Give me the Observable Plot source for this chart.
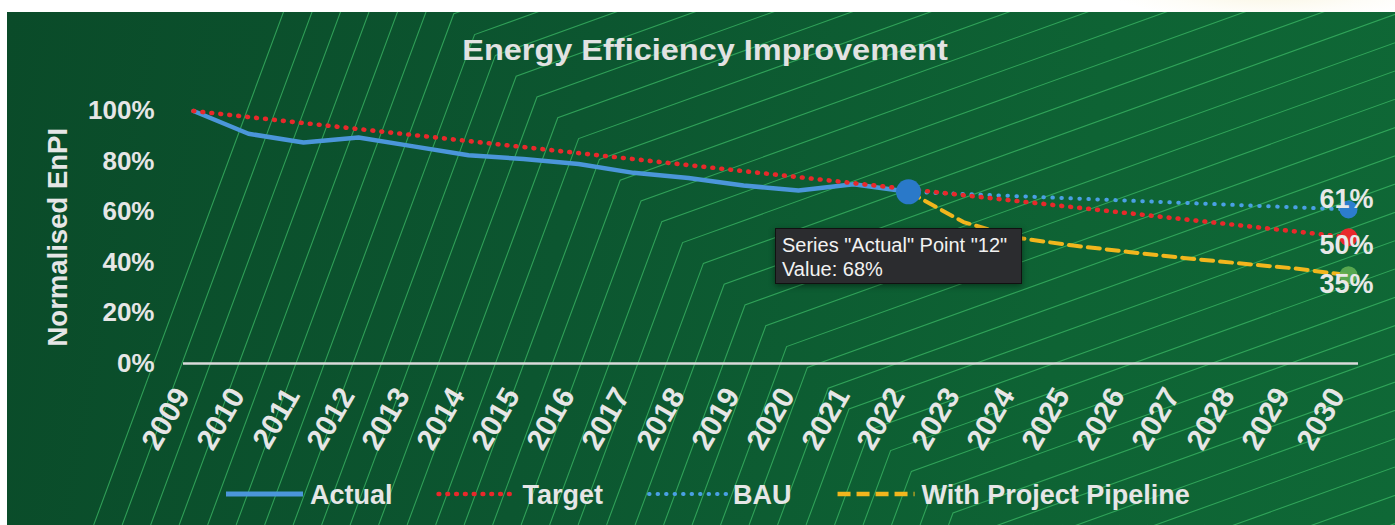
<!DOCTYPE html>
<html>
<head>
<meta charset="utf-8">
<script src="https://cdn.jsdelivr.net/npm/d3@7"></script>
<script src="https://cdn.jsdelivr.net/npm/@observablehq/plot@0.6"></script>
<style>
  body { margin: 0; background: #fff; }
  #wrap { position: relative; width: 1395px; height: 525px; overflow: hidden; background: #fff;
          font-family: "Liberation Sans", Arial, Helvetica, sans-serif; }
  #glow { position: absolute; left: 1120px; top: -40px; width: 300px; height: 60px;
          background: radial-gradient(ellipse at center, rgba(245,238,200,0.55) 0%, rgba(250,246,225,0.25) 50%, rgba(255,255,255,0) 75%); }
  #green { position: absolute; left: 7px; top: 12px; width: 1388px; height: 513px; overflow: hidden;
           background: linear-gradient(100deg, #0a4b29 0%, #0c5630 40%, #0e6334 75%, #0f6836 100%); }
  #deco { position: absolute; left: 0; top: 0; }
  #chart { position: absolute; left: 0; top: 0; width: 1395px; height: 525px; }
  #chart svg { overflow: visible; }
  #title { position: absolute; top: 34px; left: 705px; transform: translateX(-50%) scaleX(1.12);
           font-weight: bold; font-size: 29px; color: #e2e2e2; white-space: nowrap; }
  #legend { position: absolute; left: 0; top: 460px; }
  #tip { position: absolute; width: 247px; height: 56px; box-sizing: border-box;
         background: #2b2c2f; border: 1px solid #111; box-shadow: 0 2px 6px rgba(0,0,0,0.45);
         color: #f2f2f2; font-size: 20px; font-weight: normal; line-height: 24px;
         padding: 4px 0 0 6px; white-space: nowrap; }
</style>
</head>
<body>
<div id="wrap">
  <div id="glow"></div>
  <div id="green"><svg id="deco" width="1388" height="513"></svg></div>
  <div id="chart"></div>
  <div id="title"></div>
  <svg id="legend" width="1395" height="65"></svg>
  <div id="tip"></div>
</div>
<script>
// ---------------- data ----------------
const titleText = "Energy Efficiency Improvement";
const yLabelText = "Normalised EnPI";
const years = ["2009","2010","2011","2012","2013","2014","2015","2016","2017","2018","2019",
               "2020","2021","2022","2023","2024","2025","2026","2027","2028","2029","2030"];
const yTicks = [0, 20, 40, 60, 80, 100];

const actualYears  = ["2009","2010","2011","2012","2013","2014","2015","2016","2017","2018","2019","2020","2021","2022"];
const actualValues = [100, 91, 87.5, 89.5, 86, 82.5, 81, 79, 75.5, 73.5, 70.5, 68.5, 71, 68];

const targetYears  = ["2009", "2030"];
const targetValues = [100, 50];

const bauYears  = ["2022", "2030"];
const bauValues = [68, 61];

const pipelineYears  = ["2022","2023","2024","2025","2026","2027","2028","2029","2030"];
const pipelineValues = [68, 56, 49.7, 46.7, 44.2, 41.8, 39.7, 37.7, 35];

const seriesNames  = ["Actual", "Target", "BAU", "With Project Pipeline"];
const seriesColors = ["#4b96da", "#e8292b", "#4aa0e4", "#f2b61d"];
const markerColors = ["#2a79c9", "#e8292b", "#2c7dcd", "#5fae52"];

const tooltipLines = ['Series "Actual" Point "12"', 'Value: 68%'];

// ---------------- build ----------------
const rows = (xs, vs, s) => xs.map((x, i) => ({year: x, value: vs[i], series: s}));
const actual   = rows(actualYears, actualValues, seriesNames[0]);
const target   = rows(targetYears, targetValues, seriesNames[1]);
const bau      = rows(bauYears, bauValues, seriesNames[2]);
const pipeline = rows(pipelineYears, pipelineValues, seriesNames[3]);

const lastActual = actual[actual.length - 1];
const bauEnd = bau[bau.length - 1];
const targetEnd = target[target.length - 1];
const pipeEnd = pipeline[pipeline.length - 1];

const FONT = "'Liberation Sans', Arial, Helvetica, sans-serif";
const labelStyle = {x: "year", y: "value", text: d => `${d.value}%`, fill: "#e8e8e8",
                    fontSize: 27, fontWeight: "bold", dx: -2};

const plot = Plot.plot({
  width: 1395,
  height: 525,
  marginLeft: 183,
  marginRight: 37,
  marginTop: 110.5,
  marginBottom: 162,
  style: {background: "transparent", color: "#e6e6e6", fontFamily: FONT,
          fontWeight: "bold", fontSize: "26px", overflow: "visible"},
  x: {type: "point", domain: years, padding: 0, label: null},
  y: {domain: [0, 100], label: null},
  marks: [
    Plot.axisX({tickSize: 0, tickRotate: -60, tickPadding: 27, dx: -11, fontSize: 29.5,
                fontWeight: "bold", fill: "#e6e6e6", label: null}),
    Plot.axisY({ticks: yTicks, tickFormat: d => `${d}%`, tickSize: 0, tickPadding: 29, fontSize: 26,
                fontWeight: "bold", fill: "#e6e6e6", label: null}),
    Plot.ruleY([0], {stroke: "#dadada", strokeWidth: 2.5}),
    Plot.line(actual, {x: "year", y: "value", stroke: seriesColors[0], strokeWidth: 4.5}),
    Plot.line(bau, {x: "year", y: "value", stroke: seriesColors[2], strokeWidth: 4,
                    strokeDasharray: "0.5 8.5", strokeLinecap: "round"}),
    Plot.line(target, {x: "year", y: "value", stroke: seriesColors[1], strokeWidth: 4.6,
                       strokeDasharray: "0.8 8.2", strokeLinecap: "round"}),
    Plot.line(pipeline, {x: "year", y: "value", stroke: seriesColors[3], strokeWidth: 4,
                         strokeDasharray: "12 7"}),
    Plot.dot([lastActual], {x: "year", y: "value", r: 12.5, fill: markerColors[0]}),
    Plot.dot([bauEnd], {x: "year", y: "value", r: 9, fill: markerColors[2]}),
    Plot.dot([targetEnd], {x: "year", y: "value", r: 9, fill: markerColors[1]}),
    Plot.dot([pipeEnd], {x: "year", y: "value", r: 9, fill: markerColors[3], fillOpacity: 0.9}),
    Plot.text([bauEnd], {...labelStyle, dy: -10}),
    Plot.text([targetEnd], {...labelStyle, dy: 8}),
    Plot.text([pipeEnd], {...labelStyle, dy: 9}),
    Plot.text([yLabelText], {frameAnchor: "left", textAnchor: "middle", dx: -125.5, rotate: -90,
                             fontSize: 27.5, fontWeight: "bold", fill: "#e6e6e6"})
  ]
});
document.getElementById("chart").appendChild(plot);

// title
document.getElementById("title").textContent = titleText;

// tooltip placed from the scales
const sx = plot.scale("x"), sy = plot.scale("y");
const px = sx.apply(lastActual.year), py = sy.apply(lastActual.value);
const tip = document.getElementById("tip");
tip.style.left = (px - 133) + "px";
tip.style.top = (py + 37) + "px";
tip.innerHTML = tooltipLines.map(t => `<div>${t.replace(/&/g,"&amp;").replace(/</g,"&lt;")}</div>`).join("");

// legend
const leg = d3.select("#legend");
const legStyles = [
  {w: 5, dash: null, cap: "butt"},
  {w: 4.5, dash: "0.8 8", cap: "round"},
  {w: 4, dash: "0.5 8", cap: "round"},
  {w: 4.5, dash: "13 6", cap: "butt"}
];
let cx = 226;
const cy = 34;
seriesNames.forEach((name, i) => {
  leg.append("line").attr("x1", cx).attr("x2", cx + 77).attr("y1", cy).attr("y2", cy)
    .attr("stroke", seriesColors[i]).attr("stroke-width", legStyles[i].w)
    .attr("stroke-dasharray", legStyles[i].dash).attr("stroke-linecap", legStyles[i].cap);
  cx += 84;
  const t = leg.append("text").attr("x", cx).attr("y", cy + 10).text(name)
    .attr("fill", "#e6e6e6").attr("font-size", 27).attr("font-weight", "bold")
    .attr("font-family", FONT);
  cx += t.node().getComputedTextLength() + 46;
});

// decorative background lines (elbow pattern)
const deco = d3.select("#deco").append("g").attr("transform", "translate(-7,-12)");
const s1 = 0.37, s2 = 0.36, step = 20.8, xStart = 329;
for (let k = 0; k < 40; k++) {
  const xb = xStart + step * k, yb = xb - 440;
  const pts = [[xb - s1 * (525 - yb), 525], [xb, yb], [1400, yb - s2 * (1400 - xb)]];
  deco.append("polyline").attr("points", pts.map(p => p.join(",")).join(" "))
    .attr("fill", "none").attr("stroke", "#3cb866").attr("stroke-opacity", 0.75).attr("stroke-width", 1.1);
}
</script>
</body>
</html>
